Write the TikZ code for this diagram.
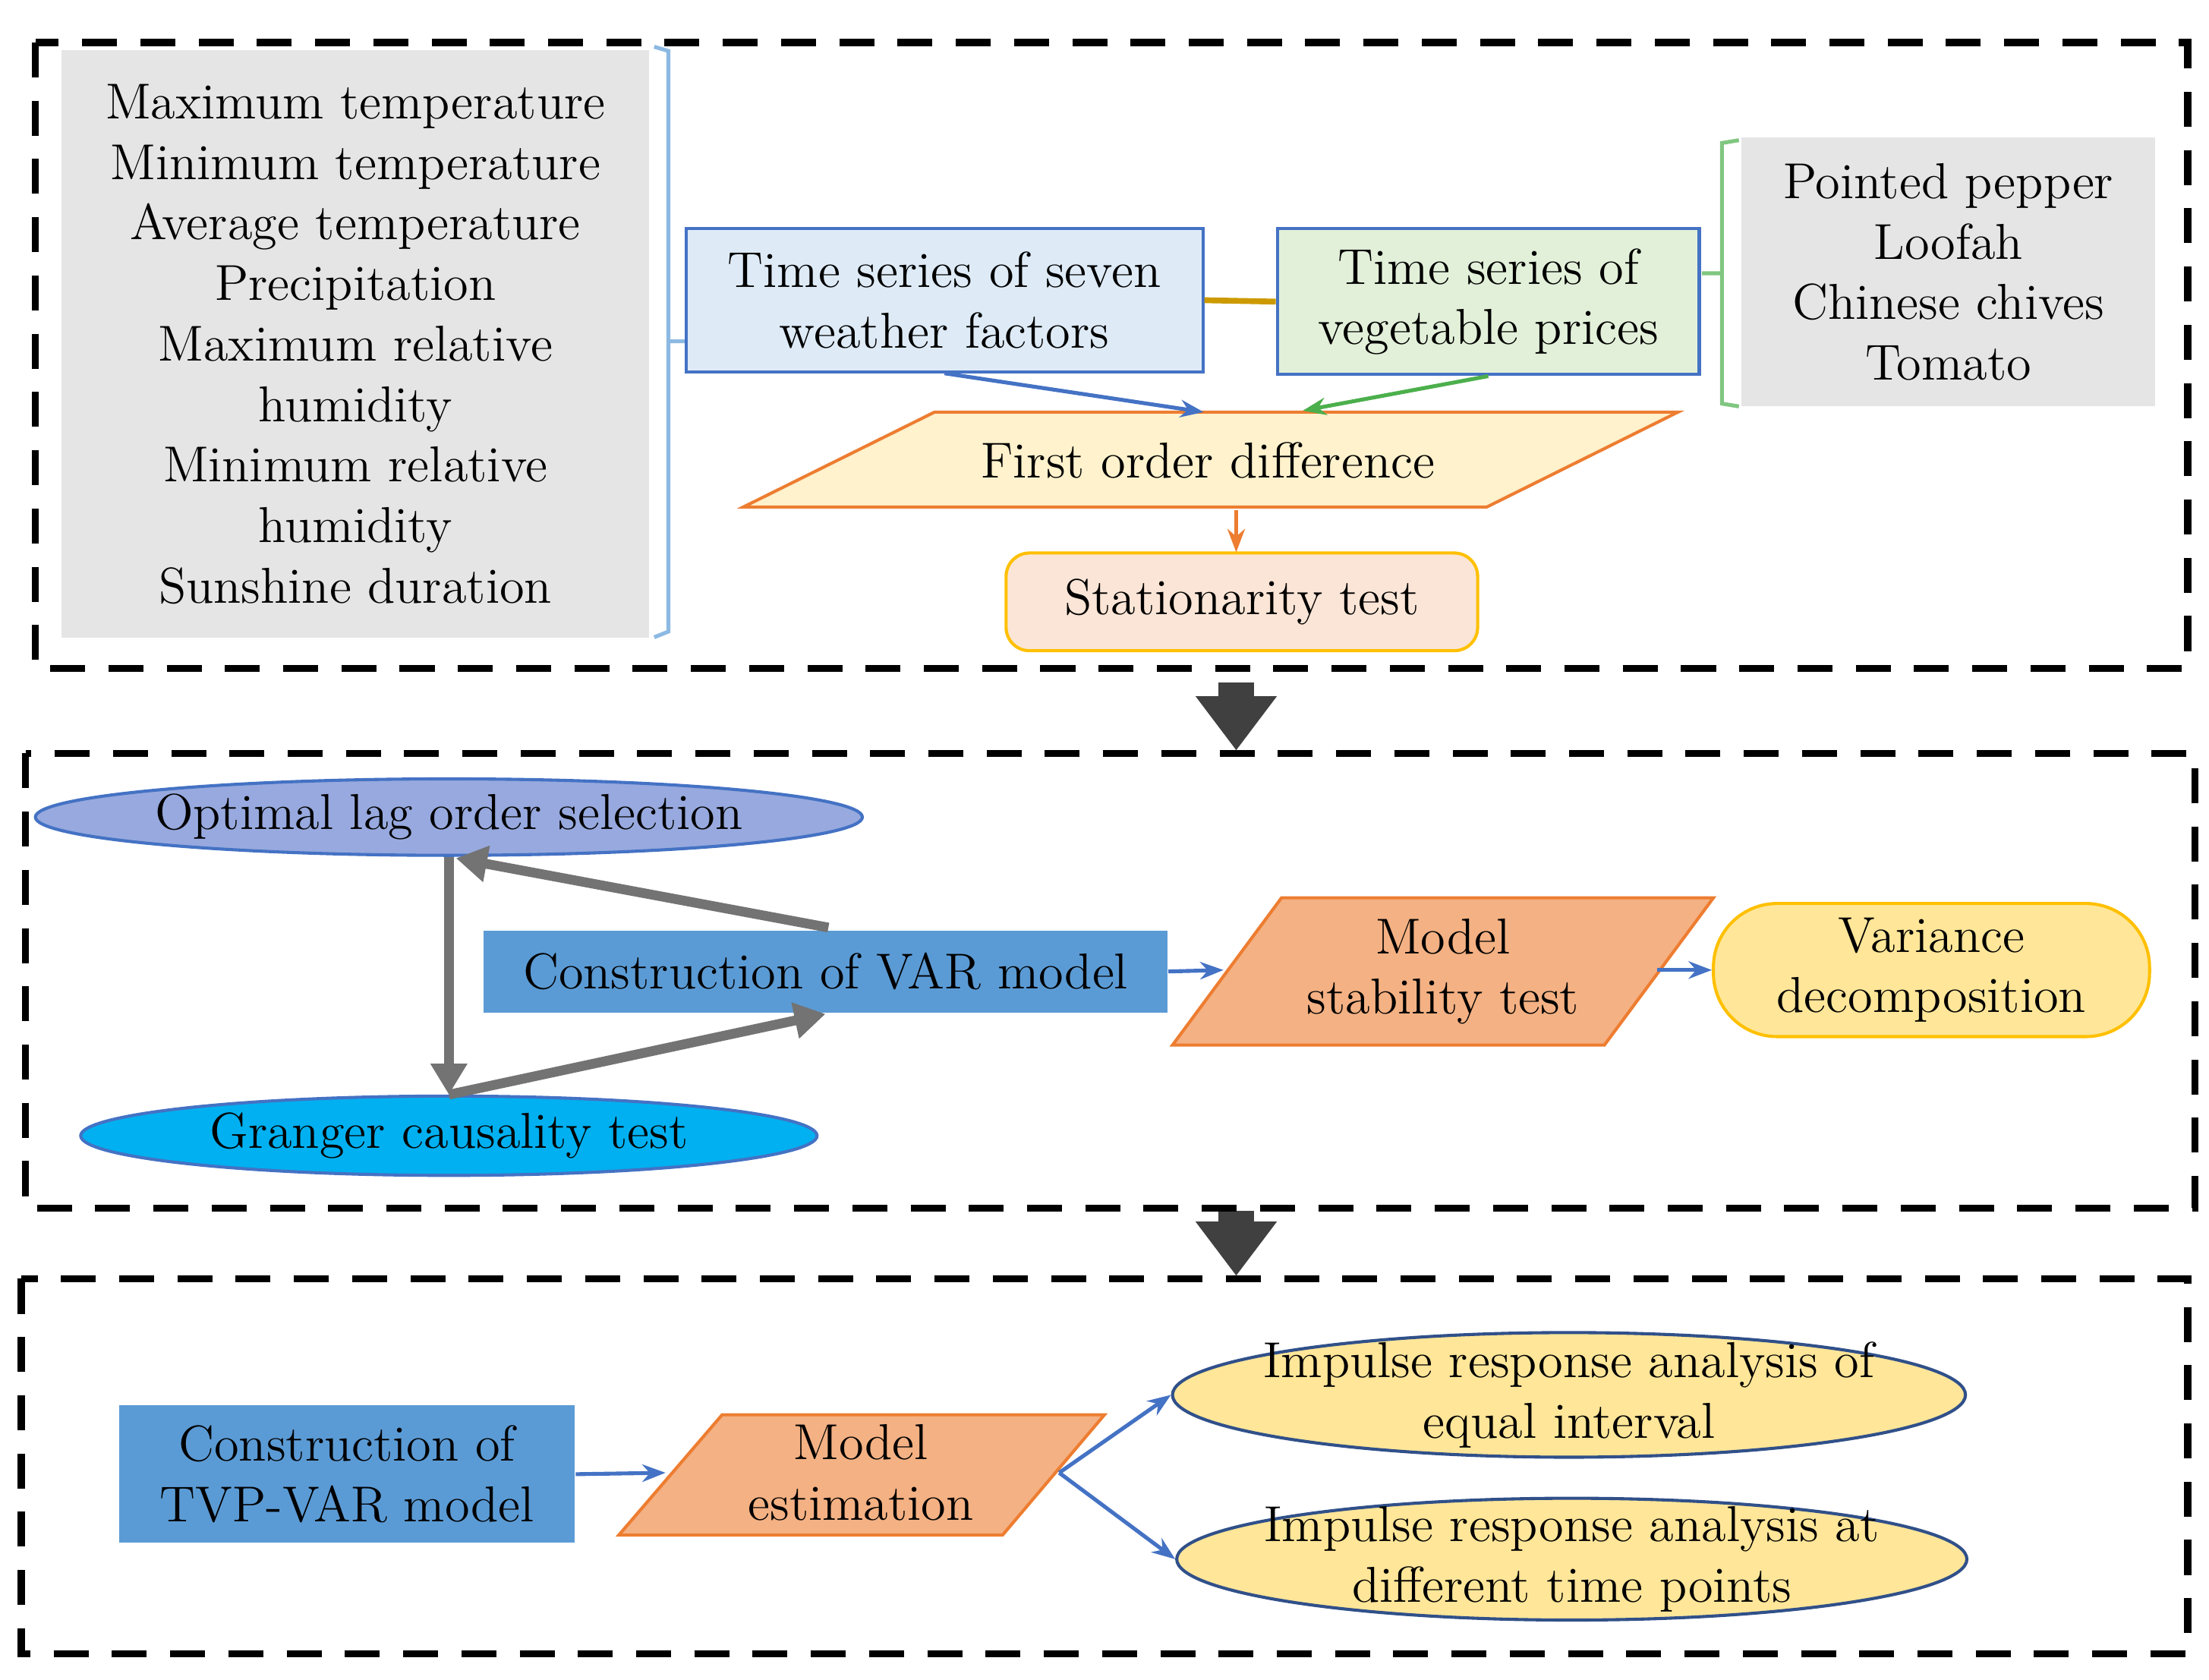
\documentclass[tikz,border=0pt]{standalone}
\usetikzlibrary{shapes.geometric,arrows.meta,decorations.pathreplacing}
\definecolor{lblue}{HTML}{DEEBF7}
\definecolor{lgreen}{HTML}{E2F0D9}
\definecolor{bord}{HTML}{4472C4}
\definecolor{mblue}{HTML}{5B9BD5}
\definecolor{optc}{HTML}{97A9DE}
\definecolor{cyanc}{HTML}{00B0F0}
\definecolor{salm}{HTML}{F4B183}
\definecolor{ylw}{HTML}{FFE699}
\definecolor{gold}{HTML}{FFC000}
\definecolor{orng}{HTML}{ED7D31}
\definecolor{peach}{HTML}{FBE5D6}
\definecolor{cream}{HTML}{FFF2CC}
\begin{document}
\begin{tikzpicture}[x=0.01282cm,y=-0.01282cm,
  every node/.style={font=\fontsize{13}{15.6}\selectfont, align=center, inner sep=0pt},
  dbox/.style={draw, line width=1.8pt, dash pattern=on 9pt off 6pt},
  bigarr/.style={-{Triangle[length=14pt,width=20pt]}, line width=9pt, draw=black!75},
  gar/.style={-{Triangle[length=8pt,width=9pt]}, line width=2.5pt, draw=black!55},
  bar/.style={-{Stealth[length=6pt]}, line width=1pt, draw=bord}]
\useasboundingbox (0,0) rectangle (1560,1186);
% box 1
\draw[dbox] (25,30) rectangle (1545,472);
\node[fill=black!10, minimum width=415*0.01282cm, minimum height=415*0.01282cm, anchor=north west] (wlist) at (43,35)
 {Maximum temperature\\Minimum temperature\\Average temperature\\Precipitation\\Maximum relative\\humidity\\Minimum relative\\humidity\\Sunshine duration};
\draw[mblue!70, line width=1pt] (462,33) -- (472,36) -- (472,446) -- (462,450) (472,241) -- (484,241);
\node[fill=lblue, draw=bord, line width=0.8pt, minimum width=365*0.01282cm, minimum height=101*0.01282cm] (weather) at (667,212) {Time series of seven\\weather factors};
\node[fill=lgreen, draw=bord, line width=0.8pt, minimum width=298*0.01282cm, minimum height=103*0.01282cm] (veg) at (1051,213) {Time series of\\vegetable prices};
\draw[gold!80!black, line width=1.5pt] (weather.east) -- (veg.west);
\node[fill=black!10, minimum width=292*0.01282cm, minimum height=190*0.01282cm] (vlist) at (1376,192) {Pointed pepper\\Loofah\\Chinese chives\\Tomato};
\draw[green!55!black!50, line width=1pt] (1228,99) -- (1216,101) -- (1216,285) -- (1228,287) (1216,193) -- (1202,193);
% first order difference
\coordinate (f1) at (525,358); \coordinate (f2) at (660,291); \coordinate (f3) at (1185,291); \coordinate (f4) at (1050,358);
\draw[fill=cream, draw=orng, line width=0.8pt] (f1)--(f2)--(f3)--(f4)--cycle;
\node (fod) at (853,325) {First order difference};
\coordinate (fodtop) at (850,291); \coordinate (fodtop2) at (920,290); \coordinate (fodbot) at (873,360);
\draw[bar] (weather.south) -- (fodtop);
\draw[-{Stealth[length=6pt]}, line width=1pt, draw=green!55!black!70] (veg.south) -- (fodtop2);
\node[fill=peach, draw=gold, line width=0.8pt, rounded corners=6pt, minimum width=333*0.01282cm, minimum height=69*0.01282cm] (stat) at (877,425) {Stationarity test};
\coordinate (stattop) at (873,390);
\draw[-{Stealth[length=6pt]}, line width=1pt, orng] (fodbot) -- (stattop);
% big arrows
\coordinate (ba1) at (873,482); \coordinate (ba2) at (873,530);
\draw[bigarr] (ba1) -- (ba2);
\coordinate (bb1) at (873,855); \coordinate (bb2) at (873,901);
\draw[bigarr] (bb1) -- (bb2);
% box 2
\draw[dbox] (18,532) rectangle (1550,853);
\node[ellipse, fill=optc, draw=bord, line width=0.8pt, minimum width=584*0.01282cm, minimum height=54*0.01282cm] (opt) at (317,577) {};
\node at (opt) {Optimal lag order selection};
\node[fill=mblue, minimum width=483*0.01282cm, minimum height=58*0.01282cm] (var) at (583,686) {Construction of VAR model};
\node[ellipse, fill=cyanc, draw=bord, line width=0.8pt, minimum width=520*0.01282cm, minimum height=56*0.01282cm] (gr) at (317,802) {};
\node at (gr) {Granger causality test};
\coordinate (v1) at (585,655); \coordinate (v2) at (583,716); \coordinate (ot) at (322,606); \coordinate (gt) at (317,773);
\draw[gar] (opt.south) -- (gt);
\draw[gar] (v1) -- (ot);
\draw[gar] (gt) -- (v2);
\coordinate (m1) at (828,738); \coordinate (m2) at (905,634); \coordinate (m3) at (1210,634); \coordinate (m4) at (1133,738);
\draw[fill=salm, draw=orng, line width=0.8pt] (m1)--(m2)--(m3)--(m4)--cycle;
\node (mst) at (1019,686) {Model\\stability test};
\coordinate (mstl) at (864,685); \coordinate (mstr) at (1170,685);
\draw[bar] (var.east) -- (mstl);
\node[rounded corners=45*0.01282cm, fill=ylw, draw=gold, line width=0.8pt, minimum width=308*0.01282cm, minimum height=94*0.01282cm] (vd) at (1364,685) {Variance\\decomposition};
\draw[bar] (mstr) -- (vd.west);
% box 3
\draw[dbox] (15,903) rectangle (1545,1168);
\node[fill=mblue, minimum width=322*0.01282cm, minimum height=97*0.01282cm] (tvp) at (245,1041) {Construction of\\TVP-VAR model};
\coordinate (e1) at (437,1084); \coordinate (e2) at (510,999); \coordinate (e3) at (780,999); \coordinate (e4) at (708,1084);
\draw[fill=salm, draw=orng, line width=0.8pt] (e1)--(e2)--(e3)--(e4)--cycle;
\node (est) at (608,1040) {Model\\estimation};
\coordinate (estl) at (470,1040); \coordinate (estr) at (748,1040);
\draw[bar] (tvp.east) -- (estl);
\node[ellipse, fill=ylw, draw=bord!70!black, line width=0.8pt, minimum width=560*0.01282cm, minimum height=88*0.01282cm] (ir1) at (1108,985) {};
\node at (ir1) {Impulse response analysis of\\equal interval};
\node[ellipse, fill=ylw, draw=bord!70!black, line width=0.8pt, minimum width=558*0.01282cm, minimum height=86*0.01282cm] (ir2) at (1110,1101) {};
\node at (ir2) {Impulse response analysis at\\different time points};
\draw[bar] (estr) -- (ir1.west);
\draw[bar] (estr) -- (ir2.west);
\end{tikzpicture}
\end{document}
